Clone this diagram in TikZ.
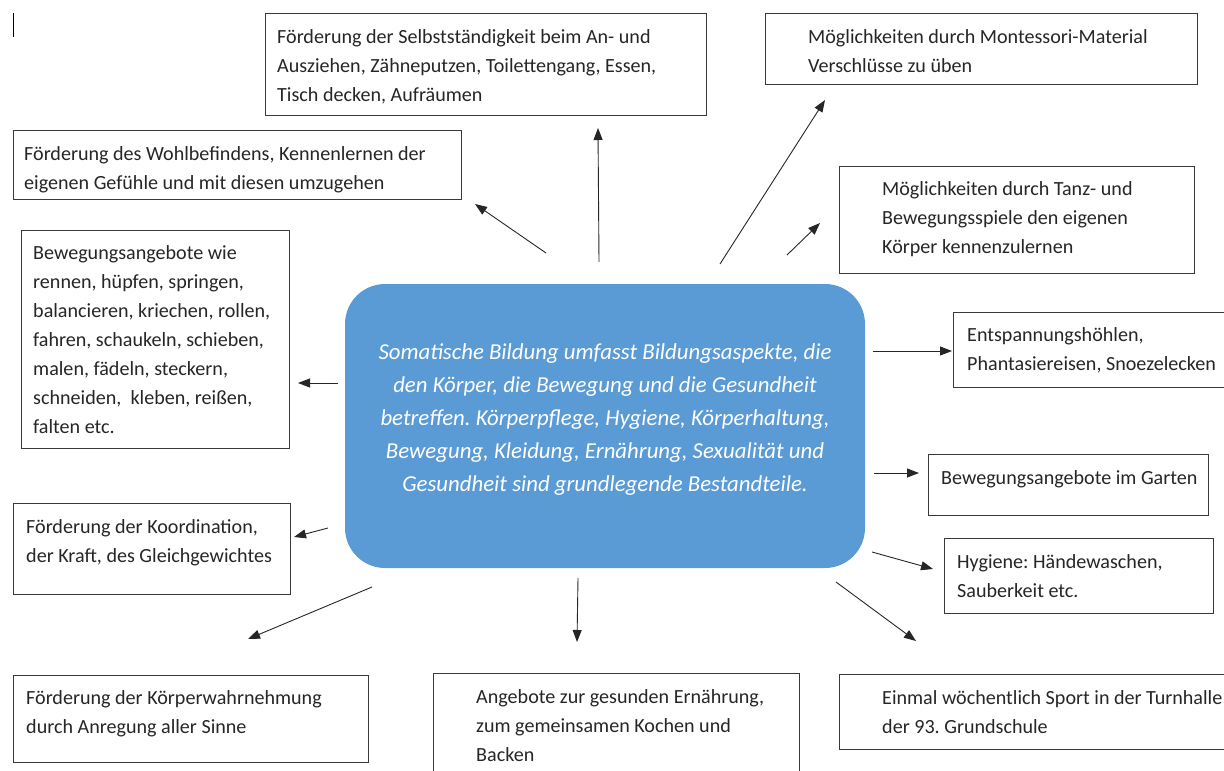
\documentclass[tikz,border=0pt]{standalone}
\usepackage{fontspec}
\setmainfont{Carlito}
\usetikzlibrary{arrows.meta}
\definecolor{somablue}{HTML}{5B9BD5}
\definecolor{rahmen}{HTML}{3A3A3A}
\frenchspacing

\begin{document}
\begin{tikzpicture}
	[x=1pt,y=-1pt,
	box/.style={rectangle,draw=rahmen,line width=1pt,anchor=north west,inner sep=0pt},
	txt/.style={anchor=north west,inner sep=0pt,align=left,text=black!85,font=\fontsize{20.1}{29}\selectfont},
	arr/.style={-{Triangle[length=12pt,width=9pt]},line width=0.9pt,draw=black!85}]
	\useasboundingbox (0,0) rectangle (1224,771);
	\draw[line width=1pt] (13,13) -- (13,37);
	% centre
	\node[rectangle,rounded corners=40pt,fill=somablue,minimum width=520pt,minimum height=284pt] (soma) at (605,426) {};
	\node[align=center,text=white,font=\itshape\fontsize{22.8}{33}\selectfont] (somatxt) at (605,420)
		{Somatische Bildung umfasst Bildungsaspekte, die\\den Körper, die Bewegung und die Gesundheit\\betreffen. Körperpflege, Hygiene, Körperhaltung,\\Bewegung, Kleidung, Ernährung, Sexualität und\\Gesundheit sind grundlegende Bestandteile.};
	% boxes
	\node[box,minimum width=441pt,minimum height=102pt] (selbst) at (265,13) {};
	\node[txt] (selbsttxt) at ([shift={(12,16)}]selbst.north west)
		{Förderung der Selbstständigkeit beim An- und\\Ausziehen, Zähneputzen, Toilettengang, Essen,\\Tisch decken, Aufräumen};
	\node[box,minimum width=432pt,minimum height=71pt] (monte) at (765,13) {};
	\node[txt] (montetxt) at ([shift={(43,16)}]monte.north west)
		{Möglichkeiten durch Montessori-Material\\Verschlüsse zu üben};
	\node[box,minimum width=448pt,minimum height=69pt] (wohl) at (13,130) {};
	\node[txt] (wohltxt) at ([shift={(11,16)}]wohl.north west)
		{Förderung des Wohlbefindens, Kennenlernen der\\eigenen Gefühle und mit diesen umzugehen};
	\node[box,minimum width=355pt,minimum height=107pt] (tanz) at (839,166) {};
	\node[txt] (tanztxt) at ([shift={(43,15)}]tanz.north west)
		{Möglichkeiten durch Tanz- und\\Bewegungsspiele den eigenen\\Körper kennenzulernen};
	\node[box,minimum width=268pt,minimum height=218pt] (beweg) at (21,230) {};
	\node[txt] (bewegtxt) at ([shift={(12,15)}]beweg.north west)
		{Bewegungsangebote wie\\rennen, hüpfen, springen,\\balancieren, kriechen, rollen,\\fahren, schaukeln, schieben,\\malen, fädeln, steckern,\\schneiden,\ \ kleben, reißen,\\falten etc.};
	\node[box,minimum width=272pt,minimum height=75pt] (entsp) at (953,312) {};
	\node[txt] (entsptxt) at ([shift={(14,15)}]entsp.north west)
		{Entspannungshöhlen,\\Phantasiereisen, Snoezelecken};
	\node[box,minimum width=280pt,minimum height=61pt] (garten) at (928,454) {};
	\node[txt] (gartentxt) at ([shift={(13,16)}]garten.north west)
		{Bewegungsangebote im Garten};
	\node[box,minimum width=269pt,minimum height=75pt] (hyg) at (944,538) {};
	\node[txt] (hygtxt) at ([shift={(13,16)}]hyg.north west)
		{Hygiene: Händewaschen,\\Sauberkeit etc.};
	\node[box,minimum width=277pt,minimum height=91pt] (koord) at (13,503) {};
	\node[txt] (koordtxt) at ([shift={(13,16)}]koord.north west)
		{Förderung der Koordination,\\der Kraft, des Gleichgewichtes};
	\node[box,minimum width=355pt,minimum height=87pt] (wahr) at (13,675) {};
	\node[txt] (wahrtxt) at ([shift={(13,15)}]wahr.north west)
		{Förderung der Körperwahrnehmung\\durch Anregung aller Sinne};
	\node[box,minimum width=366pt,minimum height=110pt] (ernae) at (433,673) {};
	\node[txt] (ernaetxt) at ([shift={(43,16)}]ernae.north west)
		{Angebote zur gesunden Ernährung,\\zum gemeinsamen Kochen und\\Backen};
	\node[box,minimum width=400pt,minimum height=75pt] (turn) at (839,674) {};
	\node[txt] (turntxt) at ([shift={(43,16)}]turn.north west)
		{Einmal wöchentlich Sport in der Turnhalle\\der 93. Grundschule};
	% arrow ends
	\coordinate (wohl-s) at (546,253);  \coordinate (wohl-e) at (475,204);
	\coordinate (selbst-s) at (599,262); \coordinate (selbst-e) at (598,128);
	\coordinate (monte-s) at (720,264); \coordinate (monte-e) at (825,100);
	\coordinate (tanz-s) at (787,255);  \coordinate (tanz-e) at (820,223);
	\coordinate (beweg-s) at (338,383); \coordinate (beweg-e) at (298,383);
	\coordinate (entsp-s) at (873,351); \coordinate (entsp-e) at (952,351);
	\coordinate (garten-s) at (874,473); \coordinate (garten-e) at (919,473);
	\coordinate (hyg-s) at (872,552);   \coordinate (hyg-e) at (933,569);
	\coordinate (koord-s) at (328,528); \coordinate (koord-e) at (294,537);
	\coordinate (wahr-s) at (372,587);  \coordinate (wahr-e) at (248,639);
	\coordinate (ernae-s) at (578,578); \coordinate (ernae-e) at (577,642);
	\coordinate (turn-s) at (836,582);  \coordinate (turn-e) at (916,641);
	\draw [arr] (wohl-s) -- (wohl-e);
	\draw [arr] (selbst-s) -- (selbst-e);
	\draw [arr] (monte-s) -- (monte-e);
	\draw [arr] (tanz-s) -- (tanz-e);
	\draw [arr] (beweg-s) -- (beweg-e);
	\draw [arr] (entsp-s) -- (entsp-e);
	\draw [arr] (garten-s) -- (garten-e);
	\draw [arr] (hyg-s) -- (hyg-e);
	\draw [arr] (koord-s) -- (koord-e);
	\draw [arr] (wahr-s) -- (wahr-e);
	\draw [arr] (ernae-s) -- (ernae-e);
	\draw [arr] (turn-s) -- (turn-e);
\end{tikzpicture}
\end{document}
